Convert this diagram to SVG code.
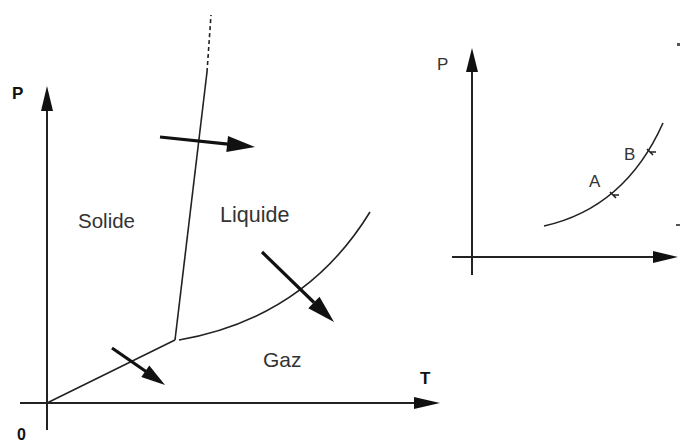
<svg xmlns="http://www.w3.org/2000/svg" width="680" height="442" viewBox="0 0 680 442">
<style>
.axis{stroke:#222;stroke-width:2;fill:none}
.curve{stroke:#222;stroke-width:1.6;fill:none}
.head{fill:#111;stroke:none}
.thick{stroke:#111;stroke-width:3.2;fill:none}
.lbl{font-family:"Liberation Sans",Arial,sans-serif;fill:#333}
.ax{font-family:"Liberation Sans",Arial,sans-serif;font-weight:bold;fill:#111}
</style>
<rect width="680" height="442" fill="#fff"/>
<g id="left-axes">
<line class="axis" x1="47" y1="430" x2="47" y2="108"/>
<polygon class="head" points="47,86 53,111 41,111"/>
<line class="axis" x1="20" y1="403" x2="416" y2="403"/>
<polygon class="head" points="440,403 414,409 414,397"/>
<text class="ax" x="12" y="99" font-size="17">P</text>
<text class="ax" x="420" y="384" font-size="17">T</text>
<text class="ax" x="17" y="440" font-size="16">0</text>
</g>
<g id="phase-lines">
<line class="curve" x1="47" y1="403" x2="175" y2="340"/>
<line class="curve" x1="175" y1="340" x2="207" y2="72"/>
<line class="curve" x1="207" y1="72" x2="211" y2="15" stroke-dasharray="4,3"/>
<path class="curve" d="M179,340 Q305,318 370,212"/>
</g>
<g id="labels">
<text class="lbl" x="78" y="228" font-size="20.5">Solide</text>
<text class="lbl" x="220" y="222" font-size="21.5">Liquide</text>
<text class="lbl" x="263" y="367" font-size="21">Gaz</text>
</g>
<g id="connectors">
<line class="thick" x1="160" y1="137" x2="228" y2="144.1"/>
<polygon class="head" points="255,147 226.3,152 228,136.1"/>
<line class="thick" x1="262" y1="252" x2="314" y2="302.5"/>
<polygon class="head" points="334,322 308.3,308.2 319.5,296.8"/>
<line class="thick" x1="112" y1="348" x2="146" y2="371.5"/>
<polygon class="head" points="165,385 141.3,377 149.3,365.5"/>
</g>
<g id="right-diagram">
<line class="axis" x1="472" y1="275" x2="472" y2="70"/>
<polygon class="head" points="472,48 478,72 466,72"/>
<line class="axis" x1="452" y1="257" x2="655" y2="257"/>
<polygon class="head" points="678,257 653,263 653,251"/>
<text class="lbl" x="437" y="70" font-size="17" fill="#222">P</text>
<path class="curve" d="M544,226 Q625,208 663,123"/>
<path class="curve" d="M610,192 L616,198 M613,195 L619,195" stroke-width="1.2"/>
<path class="curve" d="M647,149 L653,155 M650,152 L656,152" stroke-width="1.2"/>
<text class="lbl" x="589" y="187" font-size="17">A</text>
<text class="lbl" x="624" y="160" font-size="17">B</text>
<rect x="677" y="43" width="3" height="3" fill="#555"/>
<rect x="676" y="224" width="4" height="2" fill="#555"/>
</g>
</svg>
